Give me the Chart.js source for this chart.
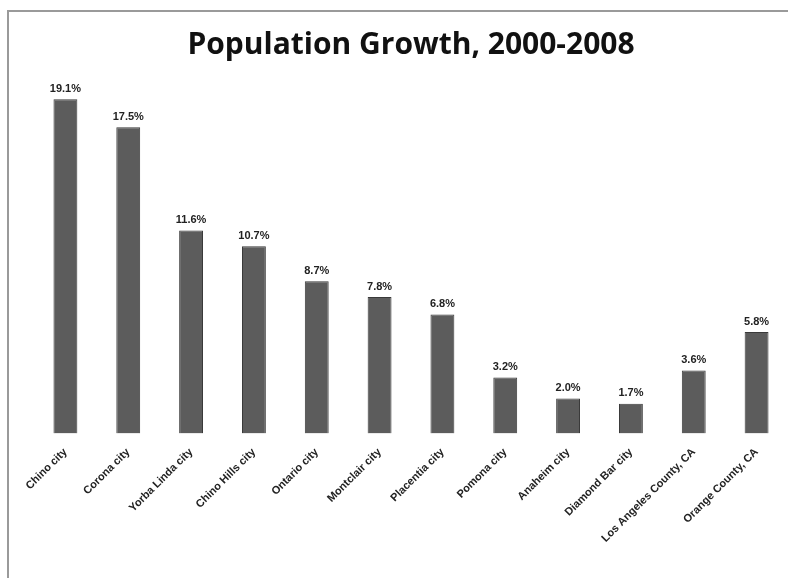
<!DOCTYPE html>
<html>
<head>
<meta charset="utf-8">
<script src="https://cdn.jsdelivr.net/npm/chart.js@4/dist/chart.umd.min.js"></script>
<style>
  html, body { margin: 0; padding: 0; background: #fff; }
  #wrap { position: relative; width: 788px; height: 578px; }
  #frame { position: absolute; left: 7px; top: 10px; right: -2px; bottom: -2px;
           border-left: 2px solid #9a9a9a; border-top: 2px solid #9a9a9a; }
  canvas { position: absolute; left: 0; top: 0; }
</style>
</head>
<body>
<div id="wrap">
  <div id="frame"></div>
  <canvas id="growthChart" width="788" height="578"></canvas>
</div>
<script>
const places = [
  "Chino city", "Corona city", "Yorba Linda city", "Chino Hills city",
  "Ontario city", "Montclair city", "Placentia city", "Pomona city",
  "Anaheim city", "Diamond Bar city", "Los Angeles County, CA", "Orange County, CA"
];
const growth = [19.1, 17.5, 11.6, 10.7, 8.7, 7.8, 6.8, 3.2, 2.0, 1.7, 3.6, 5.8];

// percent labels over each bar
const barLabels = {
  id: "barLabels",
  afterDatasetsDraw(chart) {
    const ctx = chart.ctx;
    const meta = chart.getDatasetMeta(0);
    ctx.save();
    ctx.font = "bold 11px 'Liberation Sans', Arial, sans-serif";
    ctx.fillStyle = "#222";
    ctx.textAlign = "center";
    ctx.textBaseline = "bottom";
    meta.data.forEach((bar, i) => {
      ctx.fillText(growth[i].toFixed(1) + "%", bar.x, bar.y - 5);
    });
    ctx.restore();
  }
};

document.addEventListener("DOMContentLoaded", () => {
  const ctx = document.getElementById("growthChart").getContext("2d");
  new Chart(ctx, {
    type: "bar",
    data: {
      labels: places,
      datasets: [{
        data: growth,
        backgroundColor: "#5c5c5c",
        borderColor: "#3a3a3a",
        borderWidth: 1,
        barPercentage: 0.38,
        categoryPercentage: 1
      }]
    },
    options: {
      responsive: false,
      animation: false,
      layout: { padding: { left: 34, right: 0, top: 12, bottom: 29 } },
      plugins: {
        legend: { display: false },
        tooltip: { enabled: false },
        title: {
          display: true,
          text: "Population Growth, 2000-2008",
          color: "#111",
          font: { family: "'Open Sans', sans-serif", size: 30, weight: "bold" },
          padding: { top: 15, bottom: 3 }
        }
      },
      scales: {
        y: { display: false, min: 0, max: 21 },
        x: {
          grid: { display: false },
          border: { display: false },
          ticks: {
            color: "#222",
            font: { family: "'Liberation Sans', Arial, sans-serif", size: 11, weight: "bold" },
            minRotation: 45,
            maxRotation: 45,
            autoSkip: false,
            padding: 4
          }
        }
      }
    },
    plugins: [barLabels]
  });
});
</script>
</body>
</html>
